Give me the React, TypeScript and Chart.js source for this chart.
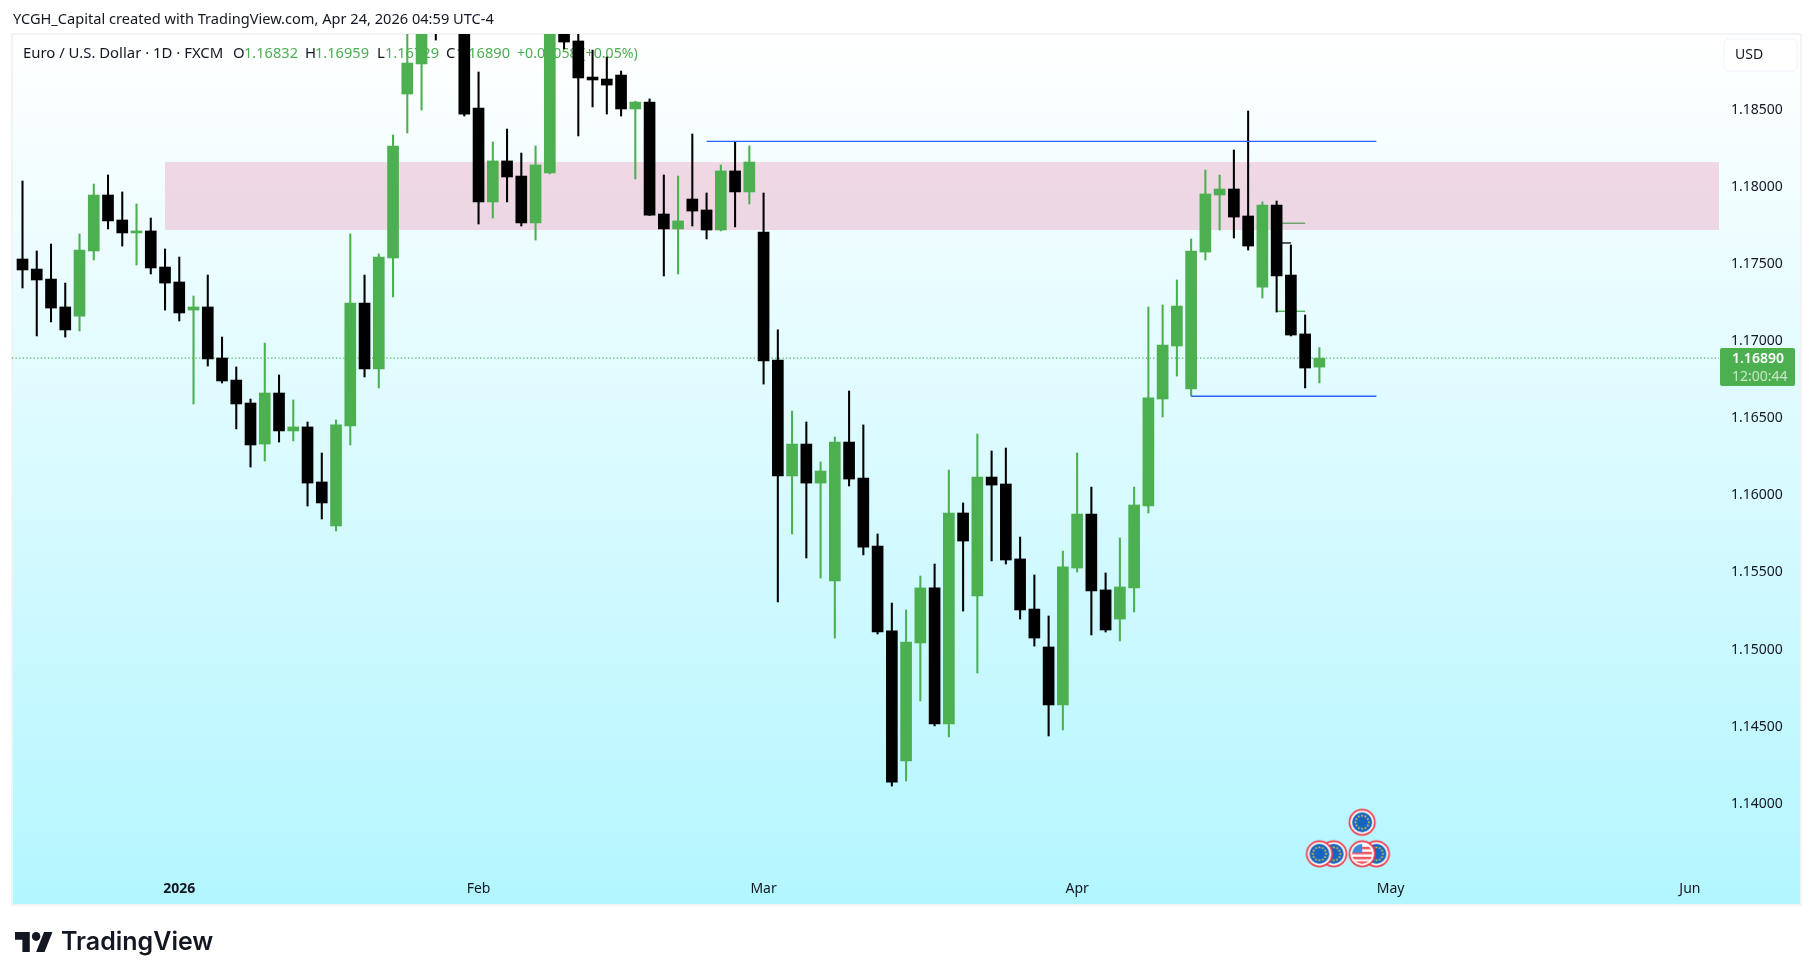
import { useEffect, useRef } from "react";
import { Chart, registerables } from "chart.js";

Chart.register(...registerables);

// --- Daily EURUSD candles (index 91 = Apr 24 2026) ---
const opens = [
  1.17533, 1.17468, 1.17403, 1.17222, 1.17163, 1.17585, 1.17948, 1.17786, 1.17702, 1.17715,
  1.17481, 1.17384, 1.17202, 1.17222, 1.16891, 1.16748, 1.16599, 1.16333, 1.16664, 1.16418,
  1.16444, 1.16087, 1.15802, 1.1645, 1.17248, 1.1682, 1.1754, 1.18603, 1.18798, 1.1915,
  1.1925, 1.1908, 1.18512, 1.17903, 1.18169, 1.18071, 1.17767, 1.18091, 1.19083, 1.18947,
  1.18713, 1.187, 1.18726, 1.18506, 1.18551, 1.17825, 1.17728, 1.17922, 1.17851, 1.17721,
  1.18104, 1.17968, 1.17708, 1.16878, 1.16126, 1.16333, 1.1608, 1.15445, 1.16346, 1.16113,
  1.15672, 1.15121, 1.14278, 1.15043, 1.154, 1.14518, 1.15886, 1.15348, 1.16119, 1.16074,
  1.15588, 1.15263, 1.15017, 1.14641, 1.15529, 1.15879, 1.15387, 1.15198, 1.154, 1.15931,
  1.16625, 1.16969, 1.1669, 1.17578, 1.17948, 1.17987, 1.17812, 1.17351, 1.17883, 1.17429,
  1.17047, 1.16832,
];
const highs = [
  1.18039, 1.17585, 1.1763, 1.17377, 1.17695, 1.18019, 1.18078, 1.17968, 1.1789, 1.17799,
  1.17598, 1.17546, 1.17293, 1.17429, 1.17027, 1.16833, 1.16625, 1.16988, 1.16781, 1.16619,
  1.16476, 1.16275, 1.16489, 1.17695, 1.17429, 1.17566, 1.18337, 1.19083, 1.19148, 1.1925,
  1.1935, 1.1915, 1.18746, 1.18292, 1.18376, 1.1822, 1.18266, 1.1935, 1.1915, 1.19083,
  1.18888, 1.18843, 1.18752, 1.18556, 1.18571, 1.18078, 1.18071, 1.18344, 1.17961, 1.18143,
  1.18292, 1.18266, 1.17961, 1.17073, 1.16547, 1.16476, 1.16217, 1.16379, 1.16677, 1.16457,
  1.1575, 1.15302, 1.15257, 1.15477, 1.15555, 1.16165, 1.15951, 1.16398, 1.16288, 1.16307,
  1.1573, 1.15484, 1.15218, 1.15639, 1.16275, 1.16054, 1.15497, 1.15724, 1.16054, 1.17222,
  1.17235, 1.17397, 1.17663, 1.1811, 1.18078, 1.1824, 1.18493, 1.17903, 1.17909, 1.17624,
  1.1717, 1.16959,
];
const lows = [
  1.17345, 1.17034, 1.17125, 1.17027, 1.17066, 1.17527, 1.17728, 1.17617, 1.17494, 1.17436,
  1.17202, 1.17131, 1.16593, 1.16839, 1.16729, 1.16431, 1.16184, 1.16223, 1.16346, 1.16353,
  1.15931, 1.15847, 1.15769, 1.16327, 1.16768, 1.16697, 1.17287, 1.1835, 1.18499, 1.18953,
  1.19, 1.1846, 1.1776, 1.17799, 1.17903, 1.17747, 1.17656, 1.18085, 1.18895, 1.18331,
  1.18519, 1.18473, 1.1846, 1.18052, 1.17815, 1.17423, 1.17436, 1.17747, 1.17663, 1.17715,
  1.17741, 1.1789, 1.16722, 1.15309, 1.1575, 1.15594, 1.15464, 1.15075, 1.16061, 1.15614,
  1.15101, 1.14115, 1.14148, 1.14667, 1.14505, 1.14433, 1.1525, 1.14848, 1.15575, 1.15555,
  1.15198, 1.15023, 1.1444, 1.14479, 1.15503, 1.15095, 1.15114, 1.15056, 1.15244, 1.15886,
  1.16508, 1.16774, 1.16645, 1.17527, 1.17721, 1.17669, 1.17591, 1.1728, 1.17189, 1.17034,
  1.16697, 1.16729,
];
const closes = [
  1.17462, 1.17397, 1.17215, 1.17073, 1.17591, 1.17948, 1.1778, 1.17702, 1.17715, 1.17475,
  1.17377, 1.17183, 1.17222, 1.16885, 1.16742, 1.16593, 1.16327, 1.16664, 1.16418, 1.16444,
  1.1608, 1.15951, 1.16457, 1.17248, 1.1682, 1.17546, 1.18266, 1.18804, 1.19083, 1.19051,
  1.1905, 1.18473, 1.17903, 1.18169, 1.18065, 1.17767, 1.18143, 1.1925, 1.1894, 1.18707,
  1.18694, 1.18661, 1.18506, 1.18551, 1.17818, 1.17728, 1.1778, 1.17844, 1.17721, 1.18104,
  1.17968, 1.18162, 1.16872, 1.16126, 1.16333, 1.1608, 1.16158, 1.16346, 1.16106, 1.15665,
  1.15114, 1.14141, 1.15049, 1.154, 1.14518, 1.15886, 1.15704, 1.16119, 1.16067, 1.15581,
  1.15257, 1.15075, 1.14641, 1.15536, 1.15879, 1.1538, 1.15127, 1.15406, 1.15938, 1.16632,
  1.16975, 1.17228, 1.17585, 1.17955, 1.17987, 1.17805, 1.17617, 1.17883, 1.17423, 1.1704,
  1.16826, 1.1689,
];

const priceTicks = [1.14, 1.145, 1.15, 1.155, 1.16, 1.165, 1.17, 1.175, 1.18, 1.185];
const monthIdx = [11, 32, 52, 74, 96, 117];
const monthLabels = ["2026", "Feb", "Mar", "Apr", "May", "Jun"];

const lastPrice = 1.1689;
const zoneStart = 10;
const zoneTop = 1.18162;
const zoneBottom = 1.17721;

const highLineX = [48, 95];
const highLineY = 1.18296;
const lowLineX = [82, 95];
const lowLineY = 1.16643;

// little drawn segments next to the last candles
const segX = [88, 90];
const segTopY = 1.17765;
const segMidY = 1.17637;
const segMidX = [88, 89];
const segLowY = 1.17194;

const eventX = [92, 91, 95, 94, 94];
const eventY = [1.13676, 1.13676, 1.13676, 1.13676, 1.1388];
const eventKind = ["eu", "eu", "eu", "us", "eu"];

const xMin = -0.737;
const xMax = 119.04;
const yMin = 1.135707;
const yMax = 1.189922;

const GREEN = "#4caf50";
const BLACK = "#000000";
const TEXT = "#131722";
const FONT = '"Noto Sans", sans-serif';

const candleColors = opens.map((o, i) => (closes[i] >= o ? GREEN : BLACK));

// --- Calendar icons ---
function makeEventIcon(kind: string) {
  const c = document.createElement("canvas");
  c.width = 30;
  c.height = 30;
  const g = c.getContext("2d")!;
  g.beginPath();
  g.arc(15, 15, 13.5, 0, Math.PI * 2);
  g.fillStyle = "#f23645";
  g.fill();
  g.beginPath();
  g.arc(15, 15, 11.8, 0, Math.PI * 2);
  g.fillStyle = "#ffffff";
  g.fill();
  g.save();
  g.beginPath();
  g.arc(15, 15, 10, 0, Math.PI * 2);
  g.clip();
  if (kind === "eu") {
    g.fillStyle = "#1565c0";
    g.fillRect(0, 0, 30, 30);
    g.fillStyle = "#e6c84a";
    for (let a = 0; a < 12; a++) {
      const t = (a * Math.PI) / 6;
      g.beginPath();
      g.arc(15 + Math.cos(t) * 6.6, 15 + Math.sin(t) * 6.6, 1, 0, Math.PI * 2);
      g.fill();
    }
  } else {
    g.fillStyle = "#ffffff";
    g.fillRect(0, 0, 30, 30);
    g.fillStyle = "#f4525c";
    g.fillRect(0, 8, 30, 2.5);
    g.fillRect(0, 13, 30, 2.5);
    g.fillRect(0, 18, 30, 2.5);
    g.fillRect(0, 22.5, 30, 3);
    g.fillStyle = "#3f8ad8";
    g.fillRect(0, 0, 15, 14);
  }
  g.restore();
  return c;
}

// --- Page furniture drawn around the plot ---
const panelPlugin = {
  id: "panel",
  beforeDraw(chart: any) {
    const { ctx } = chart;
    ctx.save();
    ctx.fillStyle = "#ffffff";
    ctx.fillRect(0, 0, 1814, 980);
    const grad = ctx.createLinearGradient(0, 34, 0, 905);
    grad.addColorStop(0, "#ffffff");
    grad.addColorStop(1, "#b3f6ff");
    ctx.fillStyle = grad;
    ctx.fillRect(12, 34, 1789, 871);
    ctx.strokeStyle = "#f2f3f5";
    ctx.lineWidth = 2;
    ctx.strokeRect(12, 34, 1789, 871);

    ctx.textBaseline = "middle";
    ctx.fillStyle = TEXT;
    ctx.font = `14.6px ${FONT}`;
    ctx.fillText("YCGH_Capital created with TradingView.com, Apr 24, 2026 04:59 UTC-4", 13, 20);

    // logo
    ctx.save();
    ctx.translate(15, 932);
    ctx.scale(38 / 36, 20 / 18);
    ctx.translate(0, -4);
    ctx.fillStyle = "#131722";
    ctx.fill(new Path2D("M14 22H7V11H0V4h14v18zM28 22h-8l7.5-18h8L28 22z"));
    ctx.beginPath();
    ctx.arc(20, 8, 4, 0, Math.PI * 2);
    ctx.fill();
    ctx.restore();
    ctx.fillStyle = "#131722";
    ctx.font = `600 25px Inter, ${FONT}`;
    ctx.fillText("TradingView", 61, 942);
    ctx.restore();
  },
  beforeDatasetsDraw(chart: any) {
    const { ctx, scales, chartArea } = chart;
    ctx.save();
    // supply zone
    const left = scales.x.getPixelForValue(zoneStart);
    const top = scales.y.getPixelForValue(zoneTop);
    const bottom = scales.y.getPixelForValue(zoneBottom);
    ctx.fillStyle = "rgba(233, 130, 165, 0.3)";
    ctx.fillRect(left, top, chartArea.right - left, bottom - top);

    // legend line, candles paint over it as in the screenshot
    ctx.textBaseline = "middle";
    const legend: [string, number, string, number][] = [
      ["Euro / U.S. Dollar · 1D · FXCM", 23, TEXT, 14.9],
      ["O", 233, TEXT, 14.9],
      ["1.16832", 244, GREEN, 14.6],
      ["H", 305, TEXT, 14.9],
      ["1.16959", 315, GREEN, 14.6],
      ["L", 377, TEXT, 14.9],
      ["1.16729", 385, GREEN, 14.6],
      ["C", 446, TEXT, 14.9],
      ["1.16890", 456, GREEN, 14.6],
      ["+0.00058 (+0.05%)", 517, GREEN, 14.2],
    ];
    legend.forEach(([t, x, col, size]) => {
      ctx.font = `${size}px ${FONT}`;
      ctx.fillStyle = col;
      ctx.fillText(t, x, 54);
    });
    ctx.restore();
  },
  afterDraw(chart: any) {
    const { ctx } = chart;
    ctx.save();
    // USD box
    ctx.beginPath();
    ctx.roundRect(1724, 39, 73, 32, 5);
    ctx.fillStyle = "#ffffff";
    ctx.fill();
    ctx.strokeStyle = "#f0f3fa";
    ctx.lineWidth = 1;
    ctx.stroke();
    ctx.fillStyle = TEXT;
    ctx.font = `14px ${FONT}`;
    ctx.textBaseline = "middle";
    ctx.fillText("USD", 1735, 55);
    // last price tag
    ctx.beginPath();
    ctx.roundRect(1720, 348, 75, 38, 2);
    ctx.fillStyle = GREEN;
    ctx.fill();
    ctx.fillStyle = "#ffffff";
    ctx.font = `600 14px ${FONT}`;
    ctx.fillText("1.16890", 1732, 359);
    ctx.fillStyle = "rgba(255,255,255,0.7)";
    ctx.font = `14px ${FONT}`;
    ctx.fillText("12:00:44", 1732, 377);
    ctx.restore();
  },
};

export default function App() {
  const canvasRef = useRef<HTMLCanvasElement | null>(null);

  useEffect(() => {
    if (!canvasRef.current) return;
    const index = opens.map((_, i) => i);
    const icons: Record<string, HTMLCanvasElement> = {
      eu: makeEventIcon("eu"),
      us: makeEventIcon("us"),
    };
    const flatLine = (xs: number[], y: number, color: string, order: number, width = 1.3) => ({
      type: "line" as const,
      data: xs.map(x => ({ x, y })),
      borderColor: color,
      borderWidth: width,
      pointRadius: 0,
      fill: false,
      order,
    });

    const chart = new Chart(canvasRef.current, {
      type: "bar",
      data: {
        datasets: [
          {
            ...flatLine([xMin, xMax], lastPrice, GREEN, 6, 1.2),
            borderDash: [1.2, 2.4],
          },
          {
            label: "wicks",
            data: index.map(i => ({ x: i, y: [lows[i], highs[i]] })),
            backgroundColor: candleColors,
            barThickness: 1.4,
            grouped: false,
            order: 4,
          },
          {
            label: "bodies",
            data: index.map(i => ({ x: i, y: [opens[i], closes[i]] })),
            backgroundColor: candleColors,
            barThickness: 11,
            grouped: false,
            order: 3,
          },
          flatLine(highLineX, highLineY, "#2962ff", 2),
          flatLine(lowLineX, lowLineY, "#2962ff", 2),
          flatLine(segX, segTopY, "#5d9c5f", 5),
          flatLine(segMidX, segMidY, BLACK, 5),
          flatLine(segX, segLowY, "#4caf50", 5),
          {
            type: "scatter" as const,
            label: "events",
            data: eventX.map((x, i) => ({ x, y: eventY[i] })),
            pointStyle: eventKind.map(k => icons[k]),
            order: 1,
          },
        ] as any,
      },
      options: {
        responsive: false,
        animation: false,
        devicePixelRatio: 1,
        layout: { padding: { left: 12, right: 13, top: 34, bottom: 75 } },
        plugins: { legend: { display: false }, tooltip: { enabled: false } },
        scales: {
          x: {
            type: "linear",
            offset: false,
            min: xMin,
            max: xMax,
            grid: { display: false },
            border: { display: false },
            afterFit: (scale: any) => {
              scale.height = 35;
            },
            afterBuildTicks: (scale: any) => {
              scale.ticks = monthIdx.map(value => ({ value }));
            },
            ticks: {
              autoSkip: false,
              maxRotation: 0,
              padding: 3,
              color: TEXT,
              font: (ctx: any) => ({
                family: FONT,
                size: 14,
                weight: ctx.tick && ctx.tick.value === monthIdx[0] ? "bold" : "normal",
              }),
              callback: (v: any) => monthLabels[monthIdx.indexOf(Number(v))] ?? "",
            },
          },
          y: {
            type: "linear",
            position: "right",
            min: yMin,
            max: yMax,
            grid: { display: false, drawTicks: false },
            border: { display: false },
            afterFit: (scale: any) => {
              scale.width = 82;
            },
            afterBuildTicks: (scale: any) => {
              scale.ticks = priceTicks.map(value => ({ value }));
            },
            ticks: {
              padding: 12,
              color: TEXT,
              font: { family: FONT, size: 14 },
              callback: (v: any) => Number(v).toFixed(5),
            },
          },
        },
      },
      plugins: [panelPlugin],
    } as any);

    return () => {
      chart.destroy();
    };
  }, []);

  return (
    <div style={{ position: "absolute", left: 0, top: 0, width: 1814, height: 980 }}>
      <canvas ref={canvasRef} width={1814} height={980} style={{ display: "block" }} />
    </div>
  );
}
